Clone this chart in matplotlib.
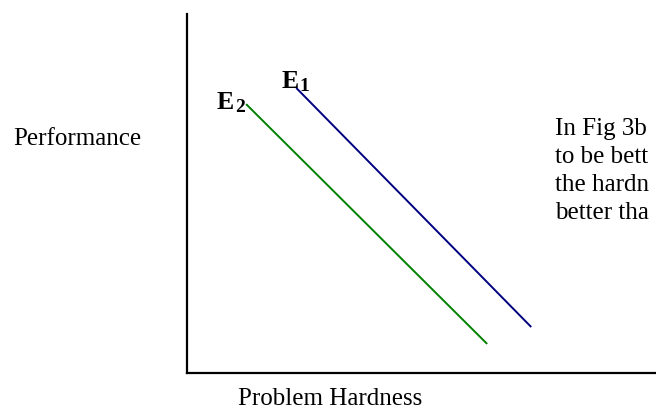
# Performance vs problem hardness sketch (Fig 3b style)

import matplotlib
matplotlib.use('Agg')
import matplotlib.pyplot as plt

W, H = 656, 413

# line end points, in hardness / performance units (0-10)
e1_hardness = [2.33, 7.34]
e1_performance = [7.94, 1.28]
e2_hardness = [1.26, 6.40]
e2_performance = [7.49, 0.81]

note_lines = ['In Fig 3b', 'to be bett', 'the hardn', 'better tha']

plt.rcParams['font.family'] = ['Liberation Serif', 'DejaVu Serif']

fig = plt.figure(figsize=(W/100, H/100), dpi=100, facecolor='white')

def px(x, y):
    # pixel coords (from top-left) to figure fraction
    return x/W, 1 - y/H

# axes box: y axis at x=187, x axis at y=373, top at y=14
left, bottom = px(187, 373)
_, top = px(187, 14)
ax = fig.add_axes([left, bottom, 1 - left, top - bottom])
ax.set_xlim(0, 10)
ax.set_ylim(0, 10)
for s in ['top', 'right']:
    ax.spines[s].set_visible(False)
for s in ['left', 'bottom']:
    ax.spines[s].set_linewidth(1.6)
    ax.spines[s].set_color('black')
ax.set_xticks([])
ax.set_yticks([])
ax.patch.set_alpha(0)

ax.plot(e1_hardness, e1_performance, color='#000080', linewidth=1.4,
        solid_capstyle='butt')
ax.plot(e2_hardness, e2_performance, color='#008000', linewidth=1.4,
        solid_capstyle='butt')

# curve labels, subscript placed right after the E
renderer = fig.canvas.get_renderer()
for name, sub, x, y in [('E', '1', 282, 88), ('E', '2', 217, 109)]:
    t = fig.text(*px(x, y), name, fontsize=18.5, fontweight='bold',
                 va='baseline')
    bb = t.get_window_extent(renderer)
    fig.text((bb.x1 + 0.5)/W, 1 - (y + 3)/H, sub, fontsize=14,
             fontweight='bold', va='baseline')

# axis titles
fig.text(*px(13, 145), 'Performance', fontsize=18, va='baseline')
fig.text(*px(238, 405), 'Problem Hardness', fontsize=18, va='baseline')

# note on the right, cut by the edge
for i, line in enumerate(note_lines):
    fig.text(*px(555, 135 + 28*i), line, fontsize=18, va='baseline')

fig.savefig('out.png', dpi=100, facecolor='white')
